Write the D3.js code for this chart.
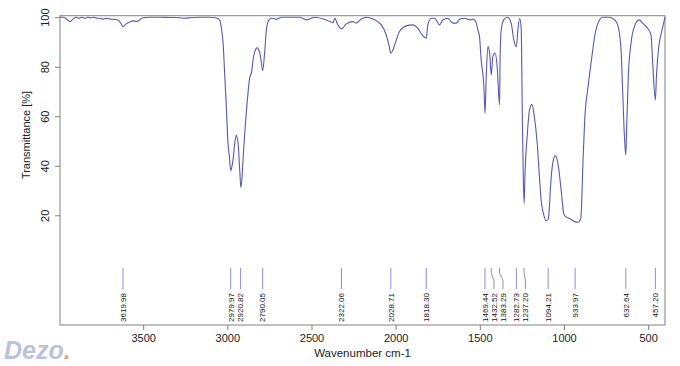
<!DOCTYPE html>
<html>
<head>
<meta charset="utf-8">
<script src="https://cdn.jsdelivr.net/npm/d3@7"></script>
<style>
  html, body { margin: 0; padding: 0; background: #fff; }
  svg { display: block; }
  text { font-family: "Liberation Sans", Arial, sans-serif; }
</style>
</head>
<body>
<svg id="chart" width="680" height="366"></svg>
<script>
// ---- data ----
const wavenumber = [3994,3977,3959,3935,3917,3900,3882,3864,3846,3828,3810,3793,3775,3757,3739,3721,3698,3674,3650,3632,3620,3603,3579,3561,3537,3520,3502,3460,3401,3342,3282,3253,3223,3164,3104,3075,3057,3045,3035,3025,3015,3005,2996,2988,2980,2972,2966,2956,2947,2936,2926,2920,2913,2907,2886,2867,2855,2847,2837,2823,2807,2797,2790,2778,2768,2758,2738,2708,2679,2570,2530,2481,2412,2372,2362,2343,2322,2293,2254,2234,2204,2174,2135,2085,2056,2039,2029,2018,2006,1977,1937,1898,1868,1842,1818,1809,1789,1769,1739,1720,1690,1660,1640,1621,1591,1561,1542,1532,1521,1512,1502,1492,1476,1469,1462,1452,1442,1432,1423,1409,1397,1383,1379,1373,1358,1337,1314,1298,1283,1274,1263,1254,1248,1242,1237,1231,1219,1205,1191,1176,1159,1146,1136,1120,1106,1094,1088,1080,1067,1051,1033,1017,1001,991,976,956,936,917,901,895,887,877,857,837,818,798,770,730,700,681,661,651,641,633,628,618,602,582,553,533,503,483,474,467,457,451,437,422,406,400];
const transmittance = [100,100,99.5,98.2,99.2,100,99.6,100,99.5,100,99.7,100,99.6,99.6,99.2,99.5,99.3,99.1,98.9,97.5,96.2,97.2,98.1,98.5,98.3,99.0,99.8,100,100,99.9,99.8,99.6,99.8,100,100,99.8,99.5,98.8,95.5,89.5,76,62.5,49,44,38,40,42.3,49,52.3,49,38,31.3,35,42,62.5,75.5,78.2,82.7,86.1,87.6,85.5,81.4,78.4,86,94.9,98.2,99.6,99.2,100,100,98.9,100,98.9,97.8,99.5,96.9,95.3,97.3,98.2,97.6,99.3,100,99.3,96.9,92.8,88.5,85.5,86.5,88.8,94.2,96.5,96.9,95.5,92.8,91.5,96.9,99.6,99.6,96.9,98.9,99.5,97.6,97.6,99.2,99.6,98.9,99.2,98.9,97.6,94.9,92.2,82.7,72,61.2,76,88.1,85.5,76.7,84.1,85.5,80,64.6,85.5,94.9,98.9,100,97.6,90.8,88.1,94.9,99.6,94.9,62.5,35.6,24.8,38.3,51.8,62.5,64.8,59.8,49,35.6,26.2,20.1,17.8,18.3,22,31.6,41,44.1,39.6,30.2,20.5,19.5,19,18.3,17.4,17.2,18.5,25,42.3,58.5,72,82.7,92.2,97.6,100,100,98.9,96.9,86.8,69.3,51.8,44.4,54.5,76,89.5,96.2,98.9,97.6,95.5,92.8,82.7,74,66.6,76,88.1,93.5,98.2,100];

const peakWavenumbers = [3619.98, 2979.97, 2920.82, 2790.05, 2322.06, 2028.71, 1818.30, 1469.44, 1432.52, 1383.29, 1282.73, 1237.20, 1094.21, 933.97, 632.64, 457.20];
const xTicks = [3500, 3000, 2500, 2000, 1500, 1000, 500];
const yTicks = [20, 40, 60, 80, 100];
const xLabel = "Wavenumber cm-1";
const yLabel = "Transmittance [%]";

// ---- layout ----
const L = 60, R = 665, T = 15.7, B = 325;
const svg = d3.select("#chart");
const x = d3.scaleLinear().domain([3994, 400]).range([L, R]);
const y = d3.scaleLinear().domain([-24.3, 100.6]).range([B, T]);

const axisColor = "#808080";
const textColor = "#222";

// frame
svg.append("rect").attr("x", L).attr("y", T).attr("width", R - L).attr("height", B - T)
  .attr("fill", "none").attr("stroke", axisColor).attr("stroke-width", 1);

// x axis
const xAxis = svg.append("g").attr("transform", `translate(0,${B})`)
  .call(d3.axisBottom(x).tickValues(xTicks).tickSize(5).tickPadding(4).tickFormat(d3.format("d")));
xAxis.select(".domain").remove();
xAxis.selectAll("line").attr("stroke", axisColor);
xAxis.selectAll("text").attr("fill", textColor).style("font-size", "11px")
  .style("font-family", '"Liberation Sans", Arial, sans-serif');

// y axis
const yAxis = svg.append("g").attr("transform", `translate(${L},0)`)
  .call(d3.axisLeft(y).tickValues(yTicks).tickSize(5).tickFormat(d3.format("d")));
yAxis.select(".domain").remove();
yAxis.selectAll("line").attr("stroke", axisColor);
yAxis.selectAll("text").remove();
yAxis.selectAll(".tick").append("text")
  .attr("transform", "translate(-11,0) rotate(-90)")
  .attr("text-anchor", "middle")
  .attr("fill", textColor)
  .style("font-size", "11px")
  .text(d => d);

// axis titles
svg.append("text").attr("x", (L + R) / 2).attr("y", 357).attr("text-anchor", "middle")
  .attr("fill", textColor).style("font-size", "11.5px").text(xLabel);
svg.append("text").attr("transform", "translate(30,135) rotate(-90)").attr("text-anchor", "middle")
  .attr("fill", textColor).style("font-size", "11px").text(yLabel);

// spectrum
const data = wavenumber.map((w, i) => ({ w, t: transmittance[i] }));
svg.append("path").datum(data)
  .attr("fill", "none").attr("stroke", "#5858b4").attr("stroke-width", 1.1)
  .attr("d", d3.line().x(d => x(d.w)).y(d => y(d.t)).curve(d3.curveMonotoneX));

// peak markers with simple label collision avoidance
const minGap = 9;
let prev = -Infinity;
const peaks = peakWavenumbers.map(w => {
  const px = x(w);
  const lx = Math.max(px, prev + minGap);
  prev = lx;
  return { w, px, lx };
});
const y0 = 268, y1 = 289;
const pg = svg.append("g");
pg.selectAll("path").data(peaks).join("path")
  .attr("fill", "none").attr("stroke", "#8c8cd0").attr("stroke-width", 1)
  .attr("d", d => d.lx === d.px
    ? `M${d.px},${y0}V${y1}`
    : `M${d.px},${y0}V${y0 + 5}L${d.lx},${y0 + 12}V${y1}`);
pg.selectAll("text").data(peaks).join("text")
  .attr("transform", d => `translate(${d.lx},${y1 + 4}) rotate(-90)`)
  .attr("text-anchor", "end").attr("dy", "0.35em")
  .attr("fill", "#111").style("font-size", "8px")
  .text(d => d.w.toFixed(2));

// watermark
const wm = svg.append("text").attr("x", 4).attr("y", 359)
  .style("font-size", "25px").style("font-weight", "bold").style("font-style", "italic")
  .attr("fill", "#b9c3dc");
wm.append("tspan").text("Dezo");
wm.append("tspan").attr("fill", "#f0a080").text(".");
</script>
</body>
</html>
